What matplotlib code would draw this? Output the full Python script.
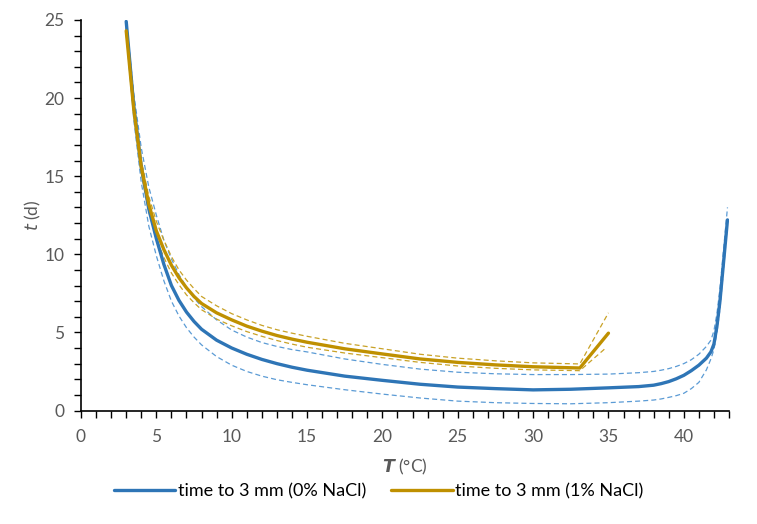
import matplotlib.pyplot as plt
from matplotlib.ticker import MultipleLocator

plt.rcParams['font.family'] = ['Lato', 'DejaVu Sans']
plt.rcParams['mathtext.fontset'] = 'dejavusans'

# 0% NaCl: mean and the two dashed bounds
T0 = [3.0, 3.5, 4.0, 4.5, 5.0, 5.5, 6.0, 6.5, 7.0, 7.5, 8.0, 9.0, 10.0, 11.0, 12.0,
      13.0, 14.0, 15.0, 17.5, 20.0, 22.5, 25.0, 27.5, 30.0, 32.5, 35.0, 37.0, 38.0,
      38.5, 39.0, 39.5, 40.0, 40.5, 41.0, 41.5, 41.8, 42.0, 42.2, 42.4, 42.9]
t0 = [24.9, 19.5, 15.6, 12.9, 11.0, 9.35, 8.0, 7.05, 6.3, 5.7, 5.2, 4.5, 4.0, 3.6, 3.27,
      3.0, 2.77, 2.58, 2.2, 1.93, 1.68, 1.5, 1.4, 1.32, 1.36, 1.45, 1.53, 1.62,
      1.72, 1.85, 2.03, 2.25, 2.55, 2.9, 3.35, 3.75, 4.25, 5.4, 7.0, 12.2]
t0_hi = [25.0, 20.3, 16.8, 14.3, 12.5, 10.9, 9.7, 8.7, 7.9, 7.2, 6.65, 5.8, 5.15, 4.7, 4.35,
         4.1, 3.9, 3.75, 3.3, 2.95, 2.65, 2.45, 2.35, 2.3, 2.3, 2.33, 2.42, 2.5,
         2.58, 2.68, 2.82, 3.0, 3.25, 3.6, 4.1, 4.5, 5.1, 6.2, 7.8, 13.0]
t0_lo = [24.8, 18.6, 14.6, 11.8, 9.9, 8.3, 7.0, 6.05, 5.3, 4.7, 4.2, 3.45, 2.9, 2.5, 2.2,
         1.97, 1.8, 1.65, 1.33, 1.05, 0.8, 0.6, 0.5, 0.45, 0.43, 0.5, 0.6, 0.67,
         0.74, 0.84, 0.95, 1.1, 1.4, 1.8, 2.6, 3.3, 3.9, 5.0, 6.5, 11.9]

# 1% NaCl
T1 = [3.0, 3.5, 4.0, 4.5, 5.0, 5.5, 6.0, 6.5, 7.0, 7.5, 8.0, 9.0, 10.0, 11.0, 12.0,
      13.0, 14.0, 15.0, 17.5, 20.0, 22.5, 25.0, 27.5, 30.0, 33.1, 35.0]
t1 = [24.3, 19.3, 15.6, 13.2, 11.5, 10.3, 9.3, 8.5, 7.85, 7.3, 6.85, 6.25, 5.8, 5.4, 5.08,
      4.8, 4.57, 4.37, 3.95, 3.62, 3.3, 3.08, 2.92, 2.8, 2.72, 4.95]
t1_hi = [24.5, 19.6, 16.0, 13.7, 12.1, 10.9, 9.85, 9.0, 8.35, 7.8, 7.3, 6.7, 6.2, 5.8, 5.45,
         5.17, 4.95, 4.75, 4.3, 3.95, 3.6, 3.35, 3.18, 3.05, 2.98, 6.25]
t1_lo = [24.1, 19.0, 15.2, 12.7, 11.0, 9.8, 8.8, 8.05, 7.4, 6.9, 6.45, 5.85, 5.42, 5.05, 4.75,
         4.48, 4.25, 4.05, 3.68, 3.38, 3.08, 2.85, 2.7, 2.6, 2.55, 3.98]
T1_lo = T1[:-1] + [34.8]

blue, blue_l = '#2E75B6', '#5B9BD5'
gold, gold_l = '#BF9000', '#C9A227'
dash = (0, (4, 2.5))

fig = plt.figure(figsize=(7.57, 5.24), dpi=100)
ax = fig.add_axes([0.107, 0.2166, 0.856, 0.7454])

ax.plot(T0, t0_hi, color=blue_l, lw=0.9, ls=dash)
ax.plot(T0, t0_lo, color=blue_l, lw=0.9, ls=dash)
ax.plot(T1, t1_hi, color=gold_l, lw=0.9, ls=dash)
ax.plot(T1_lo, t1_lo, color=gold_l, lw=0.9, ls=dash)
l0, = ax.plot(T0, t0, color=blue, lw=2.4, solid_capstyle='round', solid_joinstyle='round')
l1, = ax.plot(T1, t1, color=gold, lw=2.4, solid_capstyle='round', solid_joinstyle='round')

ax.set_xlim(0, 43)
ax.set_ylim(0, 25)
ax.xaxis.set_major_locator(MultipleLocator(5))
ax.xaxis.set_minor_locator(MultipleLocator(1))
ax.yaxis.set_major_locator(MultipleLocator(5))
ax.yaxis.set_minor_locator(MultipleLocator(1))
ax.tick_params(which='both', direction='out', length=5, width=1, color='black',
               labelcolor='#595959', labelsize=12.5)
ax.tick_params(axis='x', pad=8)
ax.tick_params(axis='y', pad=7)
for s in ['top', 'right']:
    ax.spines[s].set_visible(False)
for s in ['left', 'bottom']:
    ax.spines[s].set_linewidth(1.2)

ax.set_xlabel(r'$\boldsymbol{T}$ (°C)', color='#595959', fontsize=12.5, labelpad=9)
ax.set_ylabel('$t$ (d)', color='#595959', fontsize=12.5, labelpad=1)

fig.legend([l0, l1], ['time to 3 mm (0% NaCl)', 'time to 3 mm (1% NaCl)'],
           loc='center', bbox_to_anchor=(0.5, 0.062), ncol=2, frameon=False,
           fontsize=13, handlelength=3.4, handletextpad=0.15, columnspacing=1.4,
           labelcolor='black')

fig.savefig('out.png', dpi=100)
